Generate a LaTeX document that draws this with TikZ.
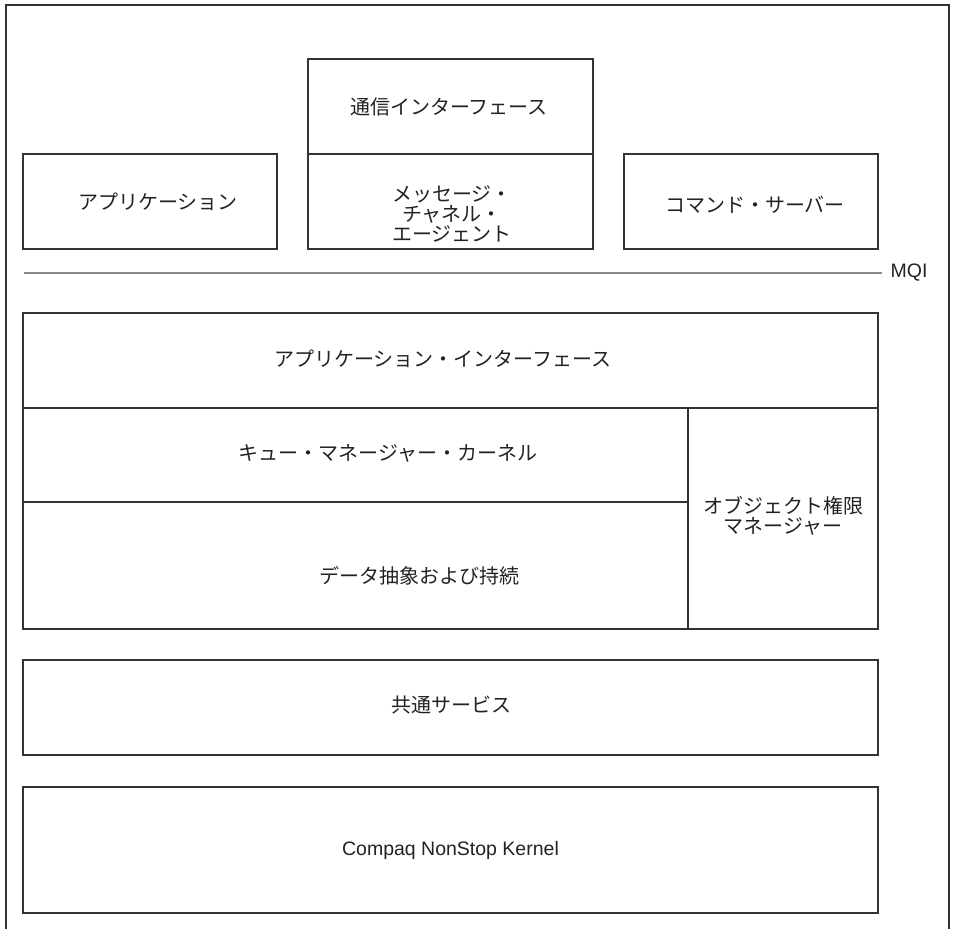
\documentclass[tikz,border=0pt]{standalone}
\usepackage{fontspec}
\setmainfont{Liberation Sans}
\newfontfamily\jp{Noto Sans CJK JP}
\definecolor{ink}{HTML}{222222}
\definecolor{frame}{HTML}{333333}
\definecolor{mqiline}{HTML}{8A8A8A}
\begin{document}
\begin{tikzpicture}[x=1pt,y=-1pt,
  box/.style={draw=frame, line width=1.1pt, inner sep=0pt, rectangle},
  txt/.style={font=\jp\fontsize{20}{20}\selectfont, text=ink, align=center, inner sep=0pt},
  lat/.style={font=\fontsize{19.5}{22}\selectfont, text=ink, inner sep=0pt}]
\useasboundingbox (0,0) rectangle (956,929);
% outer frame (open at the bottom)
\coordinate (fbl) at (6,929);
\coordinate (ftl) at (6,5);
\coordinate (ftr) at (949,5);
\coordinate (fbr) at (949,929);
\draw[line width=1.1pt, frame] (fbl) -- (ftl) -- (ftr) -- (fbr);

% upper boxes
\node[box, minimum width=254pt, minimum height=95pt] (app) at (150,201.5) {};
\node[box, minimum width=285pt, minimum height=95pt] (comm) at (450.5,106.5) {};
\node[box, minimum width=285pt, minimum height=95pt] (mca) at (450.5,201.5) {};
\node[box, minimum width=254pt, minimum height=95pt] (cmd) at (751,201.5) {};

\node[txt] (tapp) at (158,202) {アプリケーション};
\node[txt] (tcomm) at (449,107) {通信インターフェース};
\node[txt] (tmca) at (452,214) {メッセージ・\\チャネル・\\エージェント};
\node[txt] (tcmd) at (755,205) {コマンド・サーバー};

% MQI line
\node[lat] (mqi) at (909,273) {MQI};
\coordinate (mqil) at (24,273);
\coordinate (mqir) at (882,273);
\draw[line width=1.1pt, mqiline] (mqil) -- (mqir);

% queue manager blocks
\node[box, minimum width=855pt, minimum height=95pt] (api) at (450.5,360.5) {};
\node[box, minimum width=665pt, minimum height=94pt] (qmk) at (355.5,455) {};
\node[box, minimum width=665pt, minimum height=127pt] (data) at (355.5,565.5) {};
\node[box, minimum width=190pt, minimum height=221pt] (oam) at (783,518.5) {};

\node[txt] (tapi) at (443,359) {アプリケーション・インターフェース};
\node[txt] (tqmk) at (388,453) {キュー・マネージャー・カーネル};
\node[txt] (tdata) at (419,576) {データ抽象および持続};
\node[txt] (toam) at (783,516) {オブジェクト権限\\マネージャー};

% lower blocks
\node[box, minimum width=855pt, minimum height=95pt] (common) at (450.5,707.5) {};
\node[box, minimum width=855pt, minimum height=126pt] (nsk) at (450.5,850) {};

\node[txt] (tcommon) at (451,705) {共通サービス};
\node[lat] (tnsk) at (450.5,850) {Compaq NonStop Kernel};
\end{tikzpicture}
\end{document}
